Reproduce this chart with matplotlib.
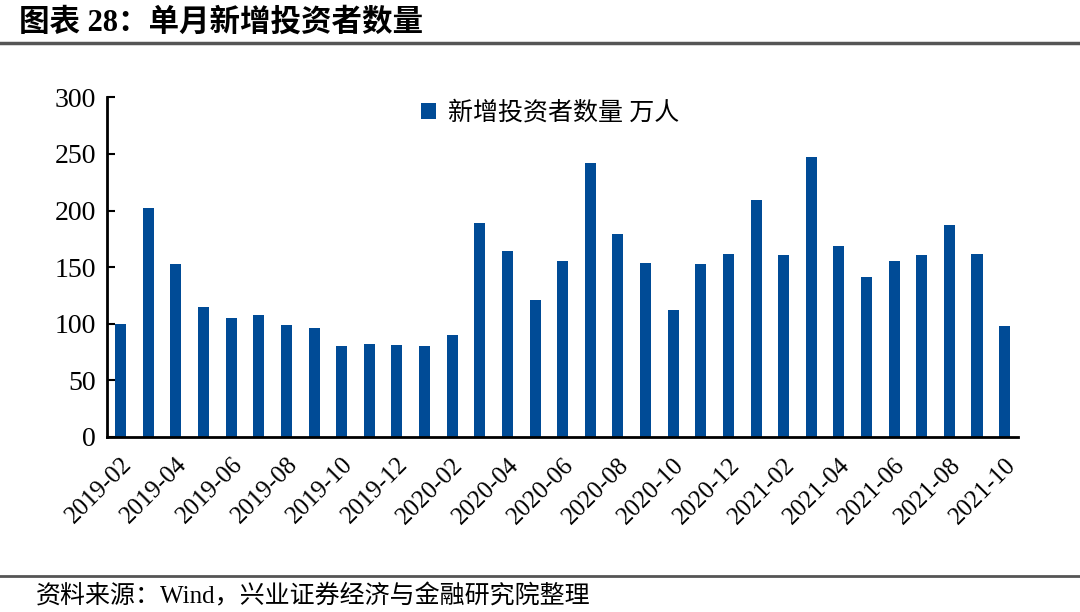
import numpy as np
import matplotlib.pyplot as plt
from matplotlib.lines import Line2D

plt.rcParams['font.family'] = ['Liberation Serif', 'Noto Sans CJK SC']
plt.rcParams['axes.unicode_minus'] = False

months = ['2019-02', '2019-03', '2019-04', '2019-05', '2019-06', '2019-07',
          '2019-08', '2019-09', '2019-10', '2019-11', '2019-12', '2020-01',
          '2020-02', '2020-03', '2020-04', '2020-05', '2020-06', '2020-07',
          '2020-08', '2020-09', '2020-10', '2020-11', '2020-12', '2021-01',
          '2021-02', '2021-03', '2021-04', '2021-05', '2021-06', '2021-07',
          '2021-08', '2021-09', '2021-10']
new_investors = [100, 202, 153, 115, 105, 108, 99, 96, 80, 82, 81, 80,
                 90, 189, 164, 121, 155, 242, 179, 154, 112, 153, 162, 209,
                 161, 247, 169, 141, 155, 161, 187, 162, 98]
series_name = '新增投资者数量 万人'
title = '图表 28：单月新增投资者数量'
source = '资料来源：Wind，兴业证券经济与金融研究院整理'

fig = plt.figure(figsize=(10.8, 6.12), dpi=100)
ax = fig.add_axes([0.099, 0.286, 0.844, 0.555])

x = np.arange(len(months))
ax.bar(x, new_investors, width=0.4, color='#004b96', label=series_name)

ax.set_xlim(-0.5, len(months) - 0.5)
ax.set_ylim(0, 300)
ax.set_yticks(np.arange(0, 301, 50))
ax.set_xticks(x[::2])
ax.set_xticklabels(months[::2], rotation=45, ha='right', rotation_mode='anchor')
ax.tick_params(axis='y', direction='in', length=6, width=1.5, labelsize=20, pad=8)
ax.tick_params(axis='x', length=0, labelsize=18, pad=12)

for side in ['top', 'right']:
    ax.spines[side].set_visible(False)
for side in ['left', 'bottom']:
    ax.spines[side].set_linewidth(2)
    ax.spines[side].set_color('black')

ax.legend(loc='upper center', bbox_to_anchor=(0.486, 1.055), frameon=False,
          fontsize=18, handlelength=0.6, handleheight=0.6, handletextpad=0.5)

# 标题和分割线
fig.text(0.018, 0.962, title, fontsize=22, fontweight='bold', va='center', ha='left')
fig.add_artist(Line2D([0.0, 1.0], [0.929, 0.929], color='#555555', linewidth=2.5,
                      transform=fig.transFigure))
fig.add_artist(Line2D([0.0, 1.0], [0.059, 0.059], color='#555555', linewidth=2,
                      transform=fig.transFigure))
fig.text(0.033, 0.025, source, fontsize=18, va='center', ha='left')

fig.savefig('out.png', dpi=100)
